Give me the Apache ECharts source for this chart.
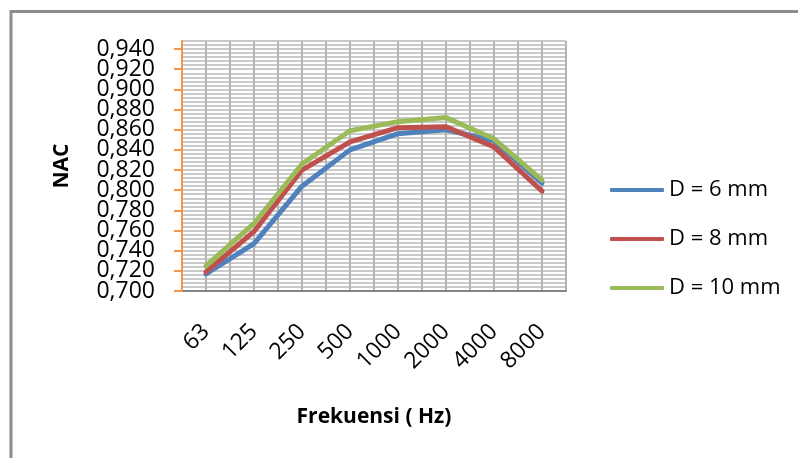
<!DOCTYPE html>
<html>
<head>
<meta charset="utf-8">
<script src="https://cdn.jsdelivr.net/npm/echarts@6/dist/echarts.min.js"></script>
<style>html,body{margin:0;padding:0;background:#fff}#c{width:798px;height:458px}</style>
</head>
<body>
<div id="c"></div>
<script>
var categories = ['63', '125', '250', '500', '1000', '2000', '4000', '8000'];
var seriesNames = ['D = 6 mm', 'D = 8 mm', 'D = 10 mm'];
var d6 = [0.717, 0.747, 0.804, 0.840, 0.856, 0.860, 0.849, 0.807];
var d8 = [0.719, 0.759, 0.820, 0.848, 0.862, 0.863, 0.843, 0.799];
var d10 = [0.725, 0.767, 0.826, 0.859, 0.868, 0.872, 0.851, 0.810];
var yTicks = [0.70, 0.72, 0.74, 0.76, 0.78, 0.80, 0.82, 0.84, 0.86, 0.88, 0.90, 0.92, 0.94];
var colors = ['#4F81BD', '#C0504D', '#9BBB59'];

var FONT = 'Open Sans';
var yEven = yTicks.filter(function (v, i) { return i % 2 === 0; });
var yOdd = yTicks.filter(function (v, i) { return i % 2 === 1; });
var fmt = function (v) { return v.toFixed(3).replace('.', ','); };
var labelStyle = {margin: 27, fontSize: 23, color: '#000', fontFamily: FONT, formatter: fmt, showMinLabel: true, showMaxLabel: true};

var chart = echarts.init(document.getElementById('c'), null, {renderer: 'canvas'});
chart.setOption({
  animation: false,
  backgroundColor: '#ffffff',
  textStyle: {fontFamily: FONT},
  grid: {left: 182, right: 232, top: 41, bottom: 167},
  graphic: [{
    type: 'rect', z: 100, silent: true,
    shape: {x: 11, y: 11.5, width: 800, height: 460},
    style: {fill: 'none', stroke: '#8c8c8c', lineWidth: 3}
  }],
  legend: {
    orient: 'vertical',
    left: 605, top: 174,
    icon: 'roundRect',
    itemWidth: 54, itemHeight: 4,
    itemGap: 27,
    data: seriesNames,
    textStyle: {fontFamily: FONT, fontSize: 22, color: '#000'}
  },
  xAxis: [{
    type: 'category',
    data: categories,
    boundaryGap: true,
    name: 'Frekuensi ( Hz)',
    nameLocation: 'middle',
    nameGap: 116,
    nameTextStyle: {fontFamily: FONT, fontWeight: 'bold', fontSize: 21, color: '#000'},
    axisLine: {lineStyle: {color: '#868686', width: 2}},
    axisTick: {show: false},
    splitLine: {show: false},
    axisLabel: {rotate: 45, margin: 37, fontSize: 23, color: '#000', fontFamily: FONT, interval: 0}
  }, {
    type: 'value', min: 0, max: 16, interval: 1, position: 'bottom',
    axisLine: {show: false}, axisTick: {show: false}, axisLabel: {show: false},
    splitLine: {show: true, lineStyle: {color: '#b4b4b4', width: 2}}
  }],
  yAxis: [{
    type: 'value',
    min: 0.7, max: 0.948, interval: 0.02,
    name: 'NAC',
    nameLocation: 'middle',
    nameGap: 109,
    nameTextStyle: {fontFamily: FONT, fontWeight: 'bold', fontSize: 21, color: '#000'},
    axisLine: {show: true, lineStyle: {color: '#F79646', width: 2}},
    axisTick: {show: true, length: 8, lineStyle: {color: '#F79646', width: 2}, customValues: yTicks},
    axisLabel: Object.assign({customValues: yEven}, labelStyle),
    splitLine: {show: false},
    z: 5
  }, {
    type: 'value', min: 0.7, max: 0.948, interval: 0.02, position: 'left',
    axisLine: {show: false}, axisTick: {show: false},
    axisLabel: Object.assign({customValues: yOdd}, labelStyle),
    splitLine: {show: false}
  }, {
    type: 'value', min: 0, max: 62, interval: 1, position: 'left',
    axisLine: {show: false}, axisTick: {show: false}, axisLabel: {show: false},
    splitLine: {show: true, lineStyle: {color: '#b8b8b8', width: 1.5}}
  }],
  series: [
    {name: seriesNames[0], type: 'line', data: d6},
    {name: seriesNames[1], type: 'line', data: d8},
    {name: seriesNames[2], type: 'line', data: d10}
  ].map(function (s, i) {
    s.xAxisIndex = 0; s.yAxisIndex = 0;
    s.symbol = 'none';
    s.color = colors[i];
    s.lineStyle = {width: 5, color: colors[i], cap: 'round', join: 'round'};
    s.itemStyle = {color: colors[i]};
    s.z = 10;
    return s;
  })
});
</script>
</body>
</html>
